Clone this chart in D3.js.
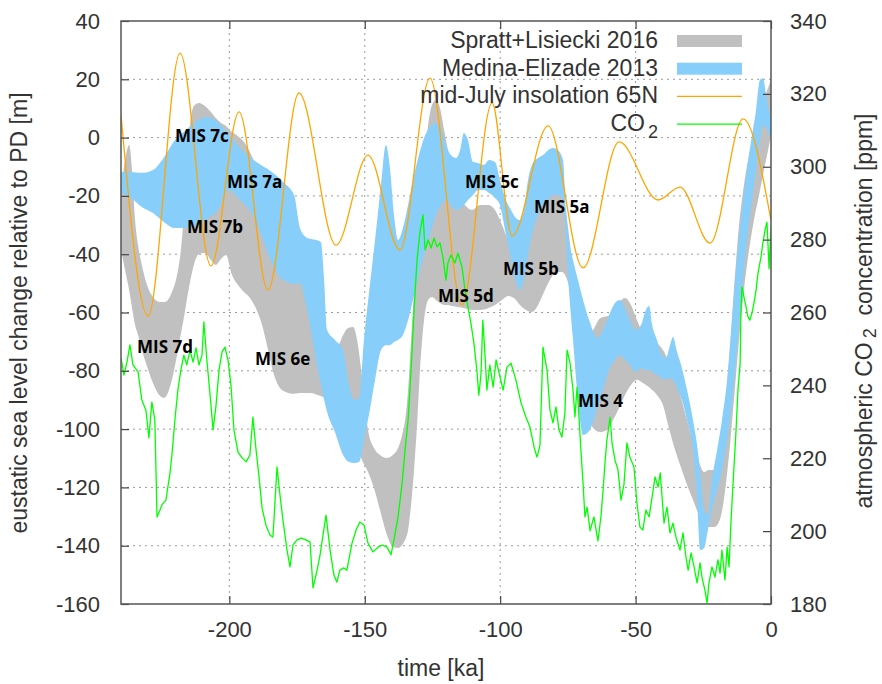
<!DOCTYPE html>
<html>
<head>
<meta charset="utf-8">
<script src="https://cdn.jsdelivr.net/npm/d3@7"></script>
<style>
  body { margin: 0; background: #fff; }
  svg { display: block; }
</style>
</head>
<body>
<svg id="chart" width="882" height="684"></svg>
<script>
// ---- Data -------------------------------------------------------------
// Spratt & Lisiecki (2016) sea-level stack: [time ka, upper m, lower m]
const sprattLisiecki = [
  [-240.0, -18.0, -38.6], [-238.5, -7.7, -45.4], [-237.0, -2.5, -52.3], [-235.9, -11.1, -58.5],
  [-234.8, -28.3, -64.3], [-233.7, -36.9, -67.7], [-232.3, -43.7, -72.9], [-230.4, -50.6, -78.4],
  [-228.2, -54.7, -84.2], [-225.6, -56.4, -88.6], [-224.1, -56.4, -89.3], [-222.7, -55.7, -87.6],
  [-221.2, -53.0, -83.1], [-219.3, -47.1, -74.6], [-217.9, -38.6, -67.4], [-216.8, -26.6, -61.9],
  [-215.7, -11.1, -55.7], [-214.5, 4.3, -49.5], [-213.1, 10.8, -43.7], [-211.2, 11.9, -39.9],
  [-209.0, 10.8, -39.6], [-206.8, 8.8, -42.0], [-205.0, 6.7, -43.7], [-203.4, 5.3, -42.0],
  [-201.2, 4.0, -40.3], [-199.0, 1.9, -47.1], [-196.8, 0.5, -50.6], [-194.6, -1.5, -53.0],
  [-192.4, -4.9, -55.0], [-190.2, -9.4, -58.5], [-187.9, -12.8, -64.3], [-185.7, -16.3, -72.9],
  [-183.5, -19.7, -81.4], [-181.3, -23.1, -85.9], [-179.1, -26.6, -87.3], [-176.9, -31.0, -87.9],
  [-173.9, -40.3, -87.6], [-170.2, -47.1, -87.6], [-166.5, -55.7, -88.6], [-162.8, -71.2, -90.0],
  [-159.9, -71.2, -91.0], [-158.0, -67.7, -93.4], [-156.2, -65.3, -96.9], [-154.3, -65.0, -102.0],
  [-152.5, -71.2, -107.2], [-150.7, -84.9, -111.3], [-148.8, -100.3, -114.7], [-146.6, -106.5, -120.2],
  [-144.4, -108.9, -127.7], [-141.8, -109.9, -136.3], [-139.6, -108.9, -140.4], [-137.7, -106.5, -140.8],
  [-136.2, -102.0, -139.8], [-135.1, -96.9, -138.0], [-134.0, -86.6, -134.6], [-132.9, -69.4, -126.0],
  [-131.8, -52.3, -114.0], [-130.7, -35.1, -98.6], [-129.6, -21.4, -79.7], [-128.1, -7.7, -62.6],
  [-126.6, 4.3, -55.7], [-125.2, 11.2, -54.7], [-123.7, 12.9, -55.7], [-122.2, 10.1, -56.7],
  [-120.7, 2.6, -57.4], [-119.3, -4.3, -57.4], [-117.8, -12.8, -57.8], [-115.6, -19.7, -58.1],
  [-113.0, -23.1, -58.5], [-110.4, -24.8, -59.1], [-107.4, -23.1, -59.1], [-104.5, -23.1, -58.5],
  [-101.9, -24.8, -57.4], [-99.3, -30.0, -55.7], [-97.1, -35.1, -54.3], [-94.9, -37.9, -55.0],
  [-92.7, -36.9, -57.4], [-90.5, -31.7, -59.1], [-88.3, -25.5, -59.8], [-86.0, -19.7, -57.4],
  [-83.8, -16.3, -53.0], [-81.6, -13.9, -48.8], [-79.4, -14.5, -46.1], [-77.2, -17.3, -46.1],
  [-75.3, -28.3, -48.8], [-73.5, -42.0, -55.7], [-71.6, -55.7, -69.4], [-69.8, -64.3, -83.1],
  [-67.9, -67.7, -93.4], [-65.7, -66.0, -99.6], [-63.1, -62.0, -101.0], [-60.6, -61.3, -100.3],
  [-58.3, -60.9, -96.9], [-56.1, -56.7, -92.8], [-53.9, -55.0, -88.3], [-51.7, -57.4, -84.9],
  [-49.5, -62.6, -83.1], [-47.3, -67.0, -84.2], [-44.7, -68.7, -85.9], [-42.1, -70.5, -88.3],
  [-39.9, -72.9, -91.7], [-37.7, -77.0, -99.6], [-35.4, -82.5, -107.2], [-33.2, -89.3, -113.3],
  [-31.0, -96.9, -119.2], [-28.8, -104.4, -124.3], [-26.6, -111.3, -129.5], [-24.7, -114.7, -132.9],
  [-22.9, -114.0, -133.6], [-21.0, -114.0, -133.6], [-19.2, -110.6, -131.9], [-17.4, -96.9, -124.3],
  [-15.5, -76.3, -108.9], [-13.7, -52.3, -90.0], [-11.8, -30.0, -69.4], [-10.0, -16.3, -52.3],
  [-8.1, -6.0, -38.6], [-6.3, 0.9, -28.3], [-4.4, 6.7, -19.7], [-2.6, 12.9, -11.1],
  [-1.1, 17.0, -4.3], [0, 19.8, 0.9]
];

// Medina-Elizalde (2013) sea-level reconstruction: [time ka, upper m, lower m]
const medinaElizalde = [
  [-240.0, -11.8, -19.0], [-236.3, -11.8, -20.7], [-232.3, -12.1, -23.8], [-228.2, -11.1, -25.9],
  [-224.1, -6.7, -29.0], [-220.1, -0.8, -31.0], [-216.0, 2.6, -31.0], [-211.9, 5.7, -30.0],
  [-208.3, 7.1, -27.9], [-204.2, 5.3, -24.8], [-200.1, 0.9, -18.0], [-196.1, -3.6, -21.4],
  [-192.0, -7.0, -25.5], [-188.3, -9.4, -33.2], [-184.3, -11.8, -43.0], [-180.2, -15.2, -48.8],
  [-176.1, -19.7, -50.2], [-173.9, -31.0, -49.9], [-172.1, -33.8, -55.7], [-169.9, -34.8, -66.0],
  [-168.0, -35.1, -76.3], [-166.2, -35.8, -84.9], [-165.0, -48.9, -90.0], [-163.9, -66.0, -94.1],
  [-161.0, -69.4, -101.0], [-158.0, -72.9, -108.9], [-155.8, -84.9, -111.3], [-154.0, -90.0, -111.6],
  [-152.1, -89.3, -111.3], [-150.3, -69.4, -103.7], [-148.1, -50.6, -93.4], [-146.2, -35.1, -83.1],
  [-144.0, -16.3, -72.9], [-142.2, -2.5, -71.2], [-140.7, -10.4, -71.2], [-139.2, -26.6, -70.1],
  [-137.7, -35.1, -69.4], [-135.9, -31.0, -67.7], [-134.0, -23.1, -62.6], [-132.2, -14.5, -55.7],
  [-130.0, -6.0, -47.1], [-128.1, -0.1, -40.3], [-125.9, 3.6, -33.4], [-124.1, 5.0, -27.6],
  [-121.8, 2.6, -23.1], [-120.0, -2.5, -21.4], [-118.2, -6.0, -23.1], [-116.3, -7.0, -24.8],
  [-114.8, -4.3, -24.2], [-113.4, 1.6, -23.1], [-111.9, -0.8, -21.4], [-110.0, -8.4, -19.7],
  [-108.2, -8.7, -18.0], [-106.0, -9.4, -18.0], [-104.1, -7.7, -19.0], [-101.9, -8.4, -20.7],
  [-100.1, -14.5, -23.1], [-98.2, -20.7, -31.7], [-96.0, -24.8, -42.0], [-94.2, -27.6, -49.5],
  [-92.7, -28.3, -52.3], [-91.2, -24.8, -48.8], [-89.7, -14.5, -40.3], [-87.9, -8.7, -31.7],
  [-86.0, -7.0, -26.6], [-84.2, -6.0, -23.1], [-82.3, -4.3, -21.4], [-80.5, -3.6, -19.7],
  [-78.7, -4.3, -19.7], [-76.8, -7.7, -21.4], [-75.7, -24.8, -35.1], [-74.6, -35.1, -52.3],
  [-73.1, -42.0, -69.4], [-71.3, -48.8, -90.0], [-69.4, -55.7, -102.0], [-66.9, -63.3, -100.3],
  [-64.3, -68.7, -93.4], [-62.0, -66.0, -86.6], [-59.8, -60.9, -79.7], [-57.6, -56.7, -76.3],
  [-55.8, -55.7, -74.6], [-53.9, -58.5, -76.3], [-52.1, -62.6, -78.0], [-49.9, -66.0, -80.4],
  [-48.0, -64.3, -79.0], [-46.2, -59.1, -79.7], [-45.0, -57.8, -79.7], [-43.9, -64.3, -80.4],
  [-42.1, -69.4, -81.4], [-40.3, -74.6, -82.5], [-38.8, -75.6, -83.1], [-37.3, -71.2, -82.5],
  [-36.2, -68.4, -83.1], [-34.7, -73.5, -85.9], [-32.9, -79.0, -90.0], [-31.0, -86.6, -96.9],
  [-28.8, -96.9, -107.2], [-27.3, -105.5, -124.3], [-26.2, -114.0, -141.5], [-24.7, -127.7, -140.8],
  [-23.3, -129.5, -134.6], [-21.8, -117.5, -127.7], [-19.9, -107.2, -120.9], [-18.1, -96.9, -114.0],
  [-16.2, -83.1, -103.7], [-14.4, -62.6, -90.0], [-12.6, -41.7, -72.9], [-10.7, -24.8, -52.3],
  [-8.9, -11.1, -35.1], [-7.0, 0.9, -21.4], [-5.5, 9.5, -11.1], [-4.1, 19.8, -0.8],
  [-3.0, 20.4, 4.3], [-1.5, 12.9, 2.6], [0, 6.0, -0.8]
];

// Mid-July insolation at 65N, drawn against the sea-level axis: [time ka, value]
const insolation65N = [
  [-240.0, 7.8], [-230.0, -61.2], [-218.2, 29.0], [-206.8, -44.0], [-196.4, 8.8],
  [-185.7, -52.3], [-174.3, 15.3], [-160.6, -36.9], [-148.8, -6.0], [-137.0, -38.6],
  [-125.9, 20.4], [-114.1, -57.4], [-103.0, 11.9], [-95.6, -33.8], [-82.3, 4.0],
  [-69.4, -44.7], [-56.1, -1.5], [-41.7, -21.4], [-33.6, -17.0], [-22.5, -36.2],
  [-10.3, 6.4], [0, -28.4]
];

// Atmospheric CO2: [time ka, ppm]
const co2 = [
  [-240.0, 247.5], [-238.9, 242.8], [-237.8, 246.4], [-236.7, 251.1], [-235.6, 245.6], [-233.7, 243.7],
  [-232.3, 236.0], [-230.8, 233.2], [-229.7, 225.6], [-228.6, 235.4], [-227.5, 230.5], [-226.7, 203.9],
  [-225.6, 205.8], [-224.9, 207.2], [-223.4, 208.5], [-222.7, 212.1], [-221.9, 216.0], [-221.2, 220.9],
  [-220.1, 230.5], [-219.0, 238.7], [-217.9, 244.2], [-216.8, 248.3], [-215.7, 245.6], [-214.5, 249.7],
  [-213.4, 246.4], [-212.3, 250.3], [-211.2, 245.6], [-210.1, 248.3], [-209.4, 257.4], [-208.3, 247.0],
  [-207.1, 237.3], [-206.0, 227.8], [-204.9, 234.6], [-203.8, 244.2], [-202.7, 249.2], [-201.6, 250.5],
  [-200.5, 247.0], [-199.4, 240.1], [-198.3, 227.8], [-196.8, 221.7], [-195.3, 220.1], [-193.8, 219.0],
  [-192.4, 220.9], [-191.3, 231.3], [-190.2, 222.8], [-189.0, 214.6], [-187.9, 206.3], [-186.5, 201.7],
  [-185.0, 198.9], [-183.9, 198.4], [-183.1, 208.5], [-182.4, 217.6], [-181.3, 209.9], [-180.2, 203.0],
  [-178.7, 194.8], [-177.6, 190.2], [-176.5, 196.2], [-175.0, 197.6], [-173.5, 198.1], [-171.7, 197.6],
  [-170.2, 197.0], [-169.1, 184.4], [-167.6, 189.3], [-166.5, 193.5], [-164.3, 204.4], [-162.8, 194.8],
  [-161.4, 188.0], [-160.3, 186.0], [-159.2, 189.3], [-157.7, 189.9], [-156.6, 189.3], [-154.7, 196.7],
  [-153.2, 200.3], [-151.8, 202.5], [-150.3, 201.7], [-148.8, 196.7], [-147.0, 194.3], [-145.1, 195.6],
  [-143.6, 196.2], [-141.8, 195.6], [-140.3, 193.5], [-138.9, 198.9], [-137.7, 203.9], [-136.2, 213.2],
  [-135.1, 222.3], [-134.0, 230.5], [-132.9, 244.2], [-131.8, 260.7], [-130.7, 274.4], [-129.6, 282.1],
  [-128.5, 286.8], [-127.7, 277.2], [-126.6, 279.9], [-125.5, 277.7], [-124.4, 280.4], [-123.3, 278.0],
  [-122.2, 279.1], [-121.1, 275.0], [-120.0, 268.9], [-119.3, 273.6], [-118.2, 275.8], [-116.7, 273.6],
  [-115.6, 276.3], [-114.1, 272.5], [-113.0, 266.2], [-111.9, 261.5], [-110.8, 257.1], [-109.7, 251.6],
  [-108.6, 244.2], [-107.9, 237.3], [-107.1, 242.8], [-106.4, 257.9], [-105.6, 248.3], [-104.9, 238.7],
  [-103.8, 245.6], [-102.6, 239.5], [-101.5, 247.0], [-100.4, 243.4], [-98.9, 238.7], [-97.5, 245.0],
  [-96.0, 246.1], [-94.2, 241.5], [-92.3, 235.2], [-90.5, 231.3], [-89.0, 228.6], [-87.5, 223.1],
  [-86.4, 220.3], [-85.3, 223.6], [-84.2, 250.5], [-82.7, 244.2], [-81.6, 233.2], [-80.5, 229.7],
  [-79.4, 234.1], [-78.3, 227.8], [-77.2, 225.8], [-76.1, 232.4], [-75.3, 249.7], [-74.2, 246.1],
  [-73.1, 238.7], [-72.4, 231.3], [-71.6, 239.5], [-70.9, 231.3], [-70.2, 222.3], [-69.4, 213.2],
  [-68.7, 203.9], [-67.9, 206.6], [-66.8, 200.1], [-65.4, 203.9], [-63.9, 197.3], [-62.8, 203.9],
  [-62.0, 211.3], [-61.3, 218.7], [-60.6, 224.9], [-59.4, 231.3], [-58.7, 224.2], [-57.6, 219.5],
  [-56.5, 216.8], [-55.4, 208.5], [-54.3, 212.7], [-53.2, 224.2], [-52.1, 220.3], [-50.6, 217.6],
  [-49.5, 207.7], [-48.4, 201.1], [-47.3, 200.3], [-46.2, 205.8], [-45.0, 203.9], [-43.9, 209.4],
  [-42.8, 214.9], [-41.7, 212.1], [-40.9, 216.0], [-39.5, 202.2], [-38.4, 206.6], [-37.3, 199.5],
  [-36.2, 202.2], [-35.1, 198.4], [-33.6, 194.8], [-32.5, 199.5], [-31.4, 192.9], [-30.6, 189.3],
  [-29.5, 194.0], [-28.4, 190.2], [-27.3, 185.8], [-26.2, 191.3], [-25.5, 187.4], [-24.4, 183.8],
  [-23.6, 180.3], [-22.9, 185.8], [-21.8, 190.2], [-20.7, 187.4], [-19.6, 192.1], [-18.8, 188.5],
  [-18.1, 194.8], [-17.0, 186.6], [-16.2, 195.6], [-15.5, 190.2], [-14.8, 202.2], [-14.0, 213.2],
  [-13.3, 222.3], [-12.9, 227.8], [-12.2, 238.7], [-11.4, 246.1], [-11.1, 259.9], [-10.7, 267.0],
  [-10.0, 264.3], [-9.2, 261.5], [-8.5, 258.8], [-7.8, 257.9], [-7.0, 259.9], [-6.3, 262.6],
  [-5.5, 266.2], [-4.8, 270.8], [-3.7, 275.2], [-3.0, 279.1], [-2.2, 282.6], [-1.5, 284.8],
  [-0.7, 272.0], [0, 283.5]
];

// Marine isotope stage annotations: [label, time ka, sea level m]
const misLabels = [
  ["MIS 7c", -220.1, -1.6], ["MIS 7a", -200.9, -17.3], ["MIS 7b", -215.6, -32.7],
  ["MIS 7d", -234.1, -73.9], ["MIS 6e", -190.5, -78.0], ["MIS 5c", -113.0, -17.3],
  ["MIS 5a", -87.5, -25.9], ["MIS 5b", -99.0, -47.2], ["MIS 5d", -123.0, -56.4],
  ["MIS 4", -71.3, -92.5]
];

const timeTicks = [-200, -150, -100, -50, 0];
const seaTicks = [40, 20, 0, -20, -40, -60, -80, -100, -120, -140, -160];
const co2Ticks = [180, 200, 220, 240, 260, 280, 300, 320, 340];

// ---- Layout -----------------------------------------------------------
const X0 = 121, X1 = 771, Y0 = 21, Y1 = 604;
const FONT = "'Liberation Sans', Arial, Helvetica, sans-serif";
const TEXT = "#333";
const plain = d => String(d);   // hyphen-minus, as gnuplot prints it

const x = d3.scaleLinear().domain([-240, 0]).range([X0, X1]);
const y = d3.scaleLinear().domain([-160, 40]).range([Y1, Y0]);
const y2 = d3.scaleLinear().domain([180, 340]).range([Y1, Y0]);

const svg = d3.select("#chart");
svg.append("rect").attr("width", 882).attr("height", 684).attr("fill", "#fff");

svg.append("defs").append("clipPath").attr("id", "plotClip")
  .append("rect").attr("x", X0).attr("y", Y0).attr("width", X1 - X0).attr("height", Y1 - Y0);

// dotted grid
const grid = svg.append("g").attr("stroke", "#9a9a9a").attr("stroke-width", 1)
  .attr("stroke-dasharray", "2,4");
grid.selectAll("line.gh").data(seaTicks.filter(v => v > -160 && v < 40)).join("line")
  .attr("class", "gh")
  .attr("x1", X0).attr("x2", X1).attr("y1", d => y(d)).attr("y2", d => y(d));
grid.selectAll("line.gv").data(timeTicks.filter(t => t > -240 && t < 0)).join("line")
  .attr("class", "gv")
  .attr("y1", Y0).attr("y2", Y1).attr("x1", d => x(d)).attr("x2", d => x(d));

// data layers
const plot = svg.append("g").attr("clip-path", "url(#plotClip)");

const band = d3.area()
  .x(d => x(d[0])).y0(d => y(d[2])).y1(d => y(d[1]))
  .curve(d3.curveMonotoneX);

plot.append("path").datum(sprattLisiecki).attr("d", band).attr("fill", "#c0c0c0");
plot.append("path").datum(medinaElizalde).attr("d", band).attr("fill", "#87cefa");

plot.append("path").datum(insolation65N)
  .attr("d", d3.line().x(d => x(d[0])).y(d => y(d[1])).curve(d3.curveMonotoneX))
  .attr("fill", "none").attr("stroke", "#ffa500").attr("stroke-width", 1.3);

plot.append("path").datum(co2)
  .attr("d", d3.line().x(d => x(d[0])).y(d => y2(d[1])))
  .attr("fill", "none").attr("stroke", "#00ff00").attr("stroke-width", 1.3)
  .attr("stroke-linejoin", "round");

// axes (ticks point into the plot, gnuplot style)
function styleAxis(g) {
  g.select(".domain").remove();
  g.selectAll(".tick line").attr("stroke", "#444").attr("stroke-width", 1.2);
  g.selectAll(".tick text").attr("fill", TEXT).attr("font-family", FONT).attr("font-size", 22);
}

svg.append("g").attr("transform", `translate(0,${Y1})`)
  .call(d3.axisBottom(x).tickValues(timeTicks).tickSize(-8).tickPadding(17).tickFormat(plain))
  .call(styleAxis);
svg.append("g").attr("transform", `translate(0,${Y0})`)
  .call(d3.axisTop(x).tickValues(timeTicks).tickSize(-8).tickFormat(""))
  .call(styleAxis);
svg.append("g").attr("transform", `translate(${X0},0)`)
  .call(d3.axisLeft(y).tickValues(seaTicks).tickSize(-8).tickPadding(21).tickFormat(plain))
  .call(styleAxis);
svg.append("g").attr("transform", `translate(${X1},0)`)
  .call(d3.axisRight(y2).tickValues(co2Ticks).tickSize(-8).tickPadding(19).tickFormat(plain))
  .call(styleAxis);

// frame
svg.append("rect").attr("x", X0).attr("y", Y0).attr("width", X1 - X0).attr("height", Y1 - Y0)
  .attr("fill", "none").attr("stroke", "#555").attr("stroke-width", 1.5);

// MIS labels
svg.append("g").selectAll("text").data(misLabels).join("text")
  .attr("x", d => x(d[1])).attr("y", d => y(d[2]))
  .attr("font-family", "'Open Sans', Lato, sans-serif").attr("font-weight", 700)
  .attr("font-size", 17).attr("fill", "#000")
  .text(d => d[0]);

// axis titles
svg.append("text")
  .attr("transform", `translate(27,313) rotate(-90)`)
  .attr("text-anchor", "middle").attr("font-family", FONT).attr("font-size", 23).attr("fill", TEXT)
  .text("eustatic sea level change relative to PD [m]");

const rTitle = svg.append("text")
  .attr("transform", `translate(872,311) rotate(-90)`)
  .attr("text-anchor", "middle").attr("font-family", FONT).attr("font-size", 23).attr("fill", TEXT);
rTitle.append("tspan").text("atmospheric CO");
rTitle.append("tspan").attr("dx", 4).attr("dy", 4).attr("font-size", 18).text("2");
rTitle.append("tspan").attr("dy", -4).text("\u00a0 concentration [ppm]");

svg.append("text")
  .attr("x", 441).attr("y", 676).attr("text-anchor", "middle")
  .attr("font-family", FONT).attr("font-size", 23).attr("fill", TEXT)
  .text("time [ka]");

// legend
const legendItems = [
  { label: "Spratt+Lisiecki 2016", kind: "band", color: "#c0c0c0" },
  { label: "Medina-Elizade 2013", kind: "band", color: "#87cefa" },
  { label: "mid-July insolation 65N", kind: "line", color: "#ffa500" },
  { label: "CO", sub: "2", kind: "line", color: "#00ff00" }
];
const legend = svg.append("g");
legendItems.forEach((item, i) => {
  const cy = 41 + i * 27.7;
  const t = legend.append("text")
    .attr("x", 658).attr("y", cy + 7).attr("text-anchor", "end")
    .attr("font-family", FONT).attr("font-size", 23).attr("fill", TEXT);
  t.append("tspan").text(item.label);
  if (item.sub) {
    t.append("tspan").attr("dx", 3).attr("dy", 7).attr("font-size", 18).text(item.sub);
  }
  if (item.kind === "band") {
    legend.append("rect").attr("x", 677).attr("y", cy - 6).attr("width", 65).attr("height", 12)
      .attr("fill", item.color);
  } else {
    legend.append("line").attr("x1", 677).attr("x2", 742).attr("y1", cy).attr("y2", cy)
      .attr("stroke", item.color).attr("stroke-width", 1.3);
  }
});
</script>
</body>
</html>
